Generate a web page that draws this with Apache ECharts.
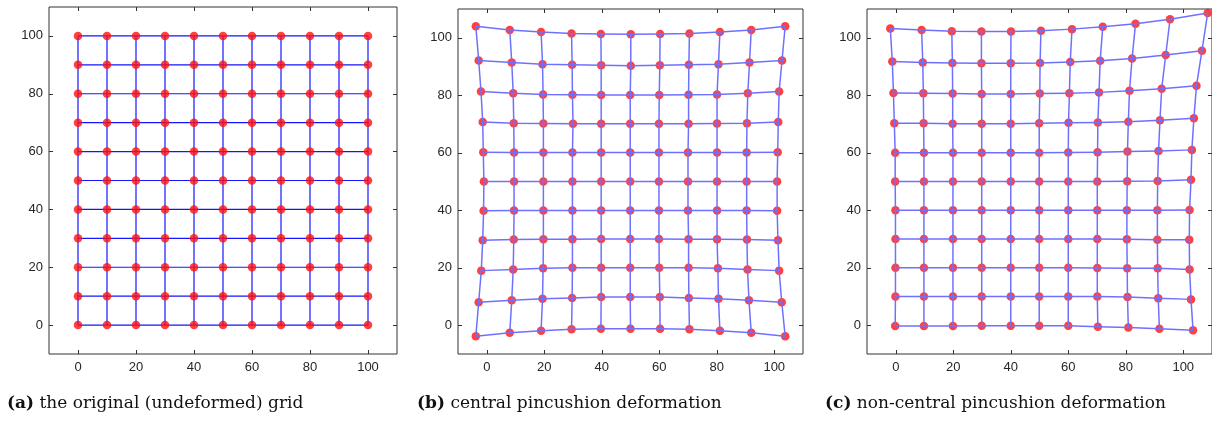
<!DOCTYPE html>
<html>
<head>
<meta charset="utf-8">
<script src="https://cdn.jsdelivr.net/npm/echarts@6/dist/echarts.min.js"></script>
<style>
  html, body { margin: 0; padding: 0; background: #fff; }
  #chart { width: 1212px; height: 421px; }
</style>
</head>
<body>
<div id="chart"></div>
<script>
// undeformed grid positions and axis ticks
const gridVals = [0, 10, 20, 30, 40, 50, 60, 70, 80, 90, 100];
const axisTicks = [0, 20, 40, 60, 80, 100];

// (b) central pincushion: rows from y≈0 (bottom) to y≈100 (top)
const bX = [
  [-3.8, 8.0, 18.9, 29.5, 39.7, 50.0, 60.3, 70.5, 81.1, 92.0, 103.8],
  [-2.8, 8.7, 19.4, 29.7, 39.8, 49.9, 60.2, 70.3, 80.6, 91.2, 102.6],
  [-1.9, 9.2, 19.6, 29.8, 39.8, 49.9, 60.0, 70.2, 80.4, 90.7, 101.7],
  [-1.4, 9.4, 19.7, 29.8, 39.8, 49.9, 59.9, 70.2, 80.1, 90.5, 101.3],
  [-1.1, 9.5, 19.7, 29.8, 39.8, 49.9, 59.9, 70.0, 80.1, 90.4, 101.0],
  [-1.0, 9.5, 19.7, 29.8, 39.8, 49.9, 59.9, 70.0, 80.1, 90.4, 101.0],
  [-1.2, 9.5, 19.7, 29.8, 39.8, 49.9, 59.9, 70.0, 80.1, 90.4, 101.2],
  [-1.4, 9.4, 19.7, 30.0, 39.8, 49.9, 59.9, 70.2, 80.1, 90.5, 101.4],
  [-2.0, 9.2, 19.6, 29.8, 39.8, 49.9, 60.0, 70.2, 80.1, 90.8, 101.7],
  [-2.8, 8.7, 19.4, 29.7, 39.8, 50.1, 60.2, 70.3, 80.6, 91.4, 102.7],
  [-3.8, 8.0, 18.9, 29.5, 39.7, 50.1, 60.3, 70.5, 81.1, 92.0, 103.8]
];
const bY = [
  [-3.8, -2.6, -1.9, -1.4, -1.2, -1.2, -1.2, -1.4, -1.9, -2.6, -3.8],
  [8.0, 8.7, 9.2, 9.5, 9.8, 9.8, 9.8, 9.5, 9.2, 8.7, 8.0],
  [19.0, 19.4, 19.8, 20.0, 20.0, 20.0, 20.0, 20.0, 19.8, 19.4, 19.0],
  [29.6, 29.8, 29.9, 29.9, 30.0, 30.0, 30.0, 29.9, 29.9, 29.8, 29.6],
  [39.8, 39.9, 39.9, 39.9, 39.9, 39.9, 39.9, 39.9, 39.9, 39.9, 39.8],
  [50.0, 50.0, 50.0, 50.0, 50.0, 50.0, 50.0, 50.0, 50.0, 50.0, 50.0],
  [60.2, 60.1, 60.1, 60.1, 60.1, 60.1, 60.1, 60.1, 60.1, 60.1, 60.2],
  [70.7, 70.3, 70.2, 70.1, 70.1, 70.1, 70.1, 70.1, 70.2, 70.3, 70.7],
  [81.3, 80.7, 80.3, 80.2, 80.1, 80.1, 80.1, 80.2, 80.3, 80.7, 81.3],
  [92.1, 91.4, 90.8, 90.6, 90.4, 90.3, 90.4, 90.6, 90.8, 91.4, 92.1],
  [104.0, 102.7, 102.0, 101.5, 101.3, 101.2, 101.3, 101.5, 102.0, 102.7, 104.0]
];

// (c) non-central pincushion
const cX = [
  [-0.2, 9.8, 19.9, 29.9, 40.0, 49.9, 60.0, 70.3, 80.9, 91.7, 103.4],
  [-0.1, 9.8, 19.9, 29.9, 40.0, 49.9, 60.0, 70.1, 80.6, 91.3, 102.7],
  [-0.1, 9.8, 19.9, 29.9, 40.0, 49.9, 60.0, 70.1, 80.5, 91.1, 102.2],
  [-0.1, 9.8, 19.9, 29.9, 40.0, 49.9, 60.0, 70.1, 80.4, 91.0, 102.1],
  [-0.1, 9.8, 19.9, 29.9, 40.0, 49.9, 60.0, 70.1, 80.4, 91.0, 102.2],
  [-0.2, 9.8, 19.9, 29.9, 40.0, 49.9, 60.0, 70.1, 80.5, 91.1, 102.7],
  [-0.2, 9.8, 19.9, 29.9, 40.0, 49.9, 60.0, 70.2, 80.6, 91.4, 103.0],
  [-0.5, 9.7, 19.8, 29.9, 40.0, 49.9, 60.1, 70.3, 80.9, 91.9, 103.7],
  [-0.8, 9.6, 19.8, 29.9, 40.0, 50.1, 60.4, 70.7, 81.3, 92.5, 104.6],
  [-1.2, 9.4, 19.7, 29.8, 40.0, 50.2, 60.7, 71.1, 82.2, 93.9, 106.5],
  [-1.9, 9.0, 19.5, 29.8, 40.1, 50.5, 61.3, 72.0, 83.4, 95.4, 108.5]
];
const cY = [
  [-0.3, -0.3, -0.3, -0.2, -0.2, -0.2, -0.2, -0.5, -0.8, -1.2, -1.7],
  [10.0, 10.0, 10.0, 10.0, 10.0, 10.0, 10.0, 10.0, 9.8, 9.4, 9.0],
  [20.0, 20.0, 20.0, 20.0, 20.0, 20.0, 20.0, 19.9, 19.8, 19.8, 19.4],
  [30.0, 30.0, 30.0, 30.0, 30.0, 30.0, 30.0, 30.0, 29.9, 29.7, 29.7],
  [40.0, 40.0, 40.0, 40.0, 40.0, 40.0, 40.0, 40.0, 40.0, 40.0, 40.1],
  [50.0, 50.0, 50.0, 50.0, 50.0, 50.0, 50.0, 50.0, 50.1, 50.2, 50.6],
  [60.0, 60.0, 60.0, 60.0, 60.0, 60.0, 60.1, 60.2, 60.4, 60.6, 61.0],
  [70.3, 70.3, 70.1, 70.1, 70.1, 70.3, 70.4, 70.5, 70.8, 71.3, 72.0],
  [80.8, 80.7, 80.6, 80.4, 80.4, 80.6, 80.7, 81.0, 81.6, 82.3, 83.3],
  [91.7, 91.4, 91.2, 91.1, 91.1, 91.2, 91.6, 92.0, 92.8, 94.0, 95.5],
  [103.2, 102.7, 102.3, 102.2, 102.2, 102.4, 103.0, 103.8, 104.9, 106.4, 108.6]
];

// (a) is the undeformed grid itself
const aX = gridVals.map(() => gridVals.slice());
const aY = gridVals.map(v => gridVals.map(() => v));

const captions = [
  ['(a)', ' the original (undeformed) grid'],
  ['(b)', ' central pincushion deformation'],
  ['(c)', ' non-central pincushion deformation']
];

document.addEventListener('DOMContentLoaded', () => {
  const chart = echarts.init(document.getElementById('chart'));

  const panels = [
    { xs: aX, ys: aY, grid: { left: 49, top: 7, width: 348, height: 347 }, line: '#1515ff', lw: 1.2, lz: 2, capX: 7 },
    { xs: bX, ys: bY, grid: { left: 458, top: 9, width: 345, height: 345 }, line: '#7070ff', lw: 1.5, lz: 4, capX: 417 },
    { xs: cX, ys: cY, grid: { left: 867, top: 9, width: 345, height: 345 }, line: '#7070ff', lw: 1.5, lz: 4, capX: 825 }
  ];

  const tickStyle = { inside: true, length: 4, customValues: axisTicks, lineStyle: { color: '#333' } };
  const labelStyle = { customValues: axisTicks, color: '#262626', fontSize: 13, fontFamily: 'Liberation Sans' };

  const grids = [], xAxes = [], yAxes = [], series = [];

  panels.forEach((p, i) => {
    grids.push(Object.assign({ show: true, borderColor: '#333', borderWidth: 1, backgroundColor: '#fff' }, p.grid));
    ['bottom', 'top'].forEach((pos, k) => {
      xAxes.push({
        gridIndex: i, type: 'value', position: pos, min: -10, max: 110,
        axisLine: { show: false, onZero: false }, splitLine: { show: false },
        axisTick: tickStyle,
        axisLabel: Object.assign({ show: k === 0, margin: 7 }, labelStyle)
      });
    });
    ['left', 'right'].forEach((pos, k) => {
      yAxes.push({
        gridIndex: i, type: 'value', position: pos, min: -10, max: 110,
        axisLine: { show: false, onZero: false }, splitLine: { show: false },
        axisTick: tickStyle,
        axisLabel: Object.assign({ show: k === 0, margin: 6 }, labelStyle)
      });
    });

    // grid lines: rows then columns
    const lineData = [];
    for (let r = 0; r < 11; r++) {
      lineData.push({ coords: p.xs[r].map((x, c) => [x, p.ys[r][c]]) });
    }
    for (let c = 0; c < 11; c++) {
      lineData.push({ coords: p.xs.map((row, r) => [row[c], p.ys[r][c]]) });
    }
    const pts = [];
    p.xs.forEach((row, r) => row.forEach((x, c) => pts.push([x, p.ys[r][c]])));

    series.push({
      type: 'scatter', xAxisIndex: 2 * i, yAxisIndex: 2 * i, z: 3,
      symbolSize: 8.5, itemStyle: { color: '#ff1010' }, data: pts, silent: true
    });
    series.push({
      type: 'lines', coordinateSystem: 'cartesian2d', polyline: true,
      xAxisIndex: 2 * i, yAxisIndex: 2 * i, z: p.lz,
      lineStyle: { color: p.line, width: p.lw, opacity: 1 },
      data: lineData, silent: true
    });
  });

  const option = {
    animation: false,
    grid: grids,
    xAxis: xAxes,
    yAxis: yAxes,
    series: series,
    graphic: panels.map((p, i) => ({
      type: 'text', left: p.capX, top: 395,
      style: {
        text: '{b|' + captions[i][0] + '}' + captions[i][1],
        font: '17px "DejaVu Serif"', fill: '#111',
        rich: { b: { fontWeight: 'bold', fontFamily: 'DejaVu Serif', fontSize: 17, fill: '#111' } }
      }
    }))
  };

  chart.setOption(option);
  window.addEventListener('resize', () => chart.resize());
});
</script>
</body>
</html>
